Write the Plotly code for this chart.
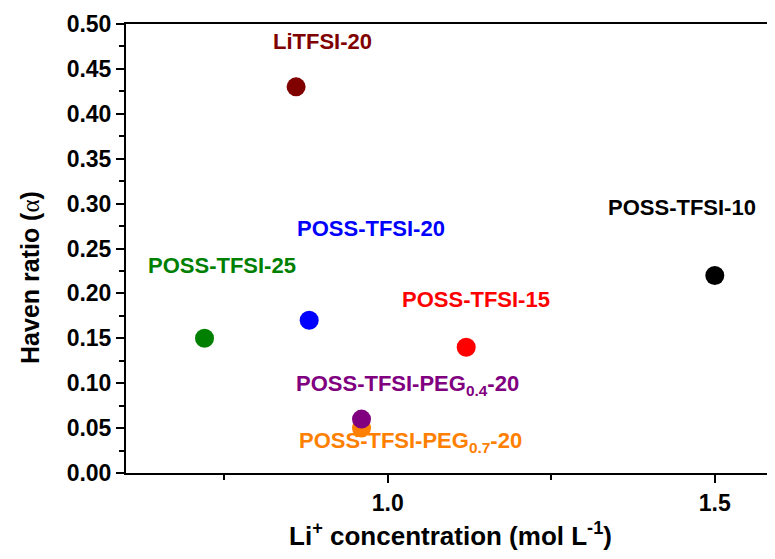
import plotly.graph_objects as go

samples = ["LiTFSI-20", "POSS-TFSI-25", "POSS-TFSI-20", "POSS-TFSI-15",
           "POSS-TFSI-10", "POSS-TFSI-PEG<sub>0.7</sub>-20", "POSS-TFSI-PEG<sub>0.4</sub>-20"]
li_conc = [0.86, 0.72, 0.88, 1.12, 1.50, 0.96, 0.96]
haven_ratio = [0.43, 0.15, 0.17, 0.14, 0.22, 0.05, 0.06]

colors = ["#800000", "#008000", "#0000FF", "#FF0000", "#000000", "#FF8000", "#800080"]
# label offsets in pixels (x, y up)
label_shift = [(26, 45), (17, 73), (62, 92), (10, 48), (-33, 68), (49, -14), (46, 34)]

FONT = "Arial, 'Liberation Sans', sans-serif"

fig = go.Figure()
for name, x, y, c in zip(samples, li_conc, haven_ratio, colors):
    fig.add_trace(go.Scatter(x=[x], y=[y], mode="markers", name=name,
                             marker=dict(size=19, color=c, line=dict(width=0)),
                             showlegend=False))

for name, x, y, c, (dx, dy) in zip(samples, li_conc, haven_ratio, colors, label_shift):
    fig.add_annotation(x=x, y=y, text=name, showarrow=False,
                       xshift=dx, yshift=dy,
                       font=dict(family=FONT, size=22, color=c, weight="bold"))

# y-axis title as a rotated annotation for exact placement
fig.add_annotation(
    xref="paper", yref="paper", x=-0.149, y=0.435, xanchor="center", yanchor="middle",
    textangle=-90, showarrow=False,
    text="Haven ratio (<span style='font-family:Liberation Serif, Times New Roman, serif; font-weight:normal'>α</span>)",
    font=dict(family=FONT, size=25, color="black", weight="bold"),
)

# page body has an 8px default margin, so the figure is sized/offset to compensate
fig.update_layout(
    width=767, height=543,
    margin=dict(l=118, r=0, t=16, b=78, autoexpand=False),
    paper_bgcolor="white", plot_bgcolor="white",
    font=dict(family=FONT, color="black"),
)
fig.update_xaxes(
    range=[0.6, 1.592], tick0=0.5, dtick=0.5, tickformat=".1f",
    showgrid=False, zeroline=False, automargin=False,
    showline=True, linecolor="black", linewidth=2, mirror=True,
    ticks="outside", ticklen=8, tickwidth=2, tickcolor="black",
    minor=dict(dtick=0.25, tick0=0.5, ticks="outside", ticklen=5, tickwidth=2, tickcolor="black", showgrid=False),
    tickfont=dict(family=FONT, size=23, color="black", weight="bold"),
    title=dict(text="Li<sup>+</sup> concentration (mol L<sup>-1</sup>)",
               font=dict(family=FONT, size=26, color="black", weight="bold"), standoff=12),
)
fig.update_yaxes(
    range=[0, 0.5], tick0=0, dtick=0.05, tickformat=".2f",
    showgrid=False, zeroline=False, automargin=False,
    showline=True, linecolor="black", linewidth=2, mirror=False,
    ticks="outside", ticklen=8, tickwidth=2, tickcolor="black",
    minor=dict(dtick=0.025, tick0=0, ticks="outside", ticklen=5, tickwidth=2, tickcolor="black", showgrid=False),
    tickfont=dict(family=FONT, size=23, color="black", weight="bold"),
)

fig.write_html("out.html")
